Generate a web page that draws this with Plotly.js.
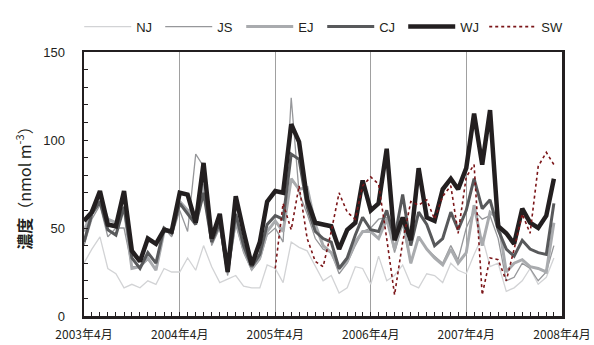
<!DOCTYPE html>
<html>
<head>
<meta charset="utf-8">
<script src="https://cdn.plot.ly/plotly-3.0.1.min.js"></script>
<style>html,body{margin:0;padding:0;background:#fff;}#chart{width:594px;height:345px;}</style>
</head>
<body>
<div id="chart"></div>
<script>
// Monthly sampling months: 2003-04 ... 2008-03
const startYear = 2003, startMonth = 4, nMonths = 60;
const months = [];
for (let i = 0; i < nMonths; i++) {
  const m = startMonth - 1 + i;
  const y = startYear + Math.floor(m / 12);
  const mm = (m % 12) + 1;
  months.push(y + '-' + String(mm).padStart(2, '0') + '-01');
}

const seriesNames = ['NJ', 'JS', 'EJ', 'CJ', 'WJ', 'SW'];

const NJ = [30, 38, 45, 27, 24, 16, 18, 16, 20, 18, 27, 25, 25, 33, 26, 40,
            28, 19, 21, 23, 17, 16, 16, 29, 27, 19, 42, 39, 37, 28,
            20, 23, 13, 16, 28, 27, 18, 34, 20, 23, 29, 18, 16, 24, 23, 19,
            30, 26, 24, 35, 45, 28, 30, 14, 16, 20, 27, 18, 22, 33];

const JS = [40, 55, 63, 45, 50, 50, 28, 28, 32, 27, 50, 45, 60, 48, 92, 85,
            40, 50, 23, 52, 36, 26, 32, 46, 50, 42, 124, 70, 58, 44,
            38, 36, 24, 30, 40, 48, 50, 55, 56, 36, 52, 30, 45, 38, 34, 30,
            40, 32, 50, 60, 55, 57, 44, 20, 22, 30, 27, 20, 25, 40];

const EJ = [48, 60, 67, 55, 53, 62, 27, 28, 33, 26, 48, 48, 65, 60, 55, 75,
            42, 53, 25, 55, 38, 27, 33, 48, 54, 48, 78, 72, 73, 52,
            40, 36, 27, 31, 42, 48, 48, 44, 55, 38, 55, 30, 45, 38, 33, 29,
            38, 30, 36, 63, 40, 59, 55, 25, 30, 32, 28, 27, 25, 53];

const CJ = [42, 58, 65, 49, 46, 62, 33, 27, 36, 30, 50, 47, 64, 58, 52, 70,
            42, 53, 25, 58, 40, 28, 35, 52, 57, 55, 92, 89, 62, 48,
            44, 42, 27, 33, 46, 56, 49, 48, 60, 44, 69, 40, 59, 52, 40, 44,
            59, 49, 60, 78, 61, 66, 49, 38, 34, 43, 38, 36, 35, 64];

const WJ = [54, 59, 71, 52, 51, 71, 37, 31, 44, 41, 49, 48, 70, 69, 53, 87,
            44, 58, 25, 68, 48, 29, 42, 65, 71, 70, 109, 99, 66, 53,
            52, 51, 38, 49, 53, 77, 60, 64, 95, 43, 56, 43, 84, 56, 54, 72,
            78, 72, 84, 115, 86, 117, 51, 47, 41, 61, 53, 50, 57, 78];

const SW = [null, null, null, null, null, null, null, null, null, null, null, null,
            null, null, null, null, null, null, null, null, null, null, null, null,
            27, 64, 49, 74, 44, 31, 28, 48, 70, 59, 55, 74, 79, 75, 44, 12,
            42, 65, 63, 66, 55, 68, 74, 47, 79, 86, 12, 33, 32, 20, 38, 58, 47, 85, 93, 86];

const tickVals = ['2003-04-01', '2004-04-01', '2005-04-01', '2006-04-01', '2007-04-01', '2008-04-01'];
const tickText = ['2003年4月', '2004年4月', '2005年4月', '2006年4月', '2007年4月', '2008年4月'];

const styles = {
  NJ: {color: '#d2d3d5', width: 1.3, dash: 'solid'},
  JS: {color: '#96979a', width: 1.3, dash: 'solid'},
  EJ: {color: '#a9abae', width: 3, dash: 'solid'},
  CJ: {color: '#58595b', width: 3, dash: 'solid'},
  WJ: {color: '#231f20', width: 4.5, dash: 'solid'},
  SW: {color: '#7b1518', width: 1.6, dash: 'dot'}
};
const dataMap = {NJ, JS, EJ, CJ, WJ, SW};

const traces = seriesNames.map(n => ({
  type: 'scatter', mode: 'lines', name: n,
  x: months, y: dataMap[n],
  line: {color: styles[n].color, width: styles[n].width, dash: styles[n].dash},
  connectgaps: false
}));

const font = "Liberation Sans, Arial, 'Noto Sans CJK JP', sans-serif";

const layout = {
  width: 594, height: 345,
  margin: {l: 84, r: 32, t: 46, b: 29},
  paper_bgcolor: '#fff', plot_bgcolor: '#fff',
  font: {family: font, color: '#231f20', size: 12},
  showlegend: true,
  legend: {
    orientation: 'h', x: -0.01, xanchor: 'left', y: 1.096, yanchor: 'middle',
    font: {size: 13, family: font, color: '#231f20'},
    itemwidth: 47, entrywidth: 19, entrywidthmode: 'pixels',
    bgcolor: 'rgba(0,0,0,0)', tracegroupgap: 0
  },
  xaxis: {
    type: 'date', range: ['2003-04-01', '2008-04-01'],
    tickvals: tickVals, ticktext: tickText,
    tickfont: {size: 12, family: "'Noto Sans CJK JP', sans-serif", color: '#231f20'},
    ticks: 'inside', ticklen: 4, tickcolor: '#231f20', tickwidth: 1,
    minor: {dtick: 'M1', tick0: '2003-04-01', ticks: 'inside', ticklen: 4, tickcolor: '#231f20', tickwidth: 1, showgrid: false},
    ticklabelstandoff: 6,
    showgrid: true, gridcolor: '#a0a0a0', gridwidth: 1,
    showline: true, linecolor: '#231f20', linewidth: 2.5, mirror: true,
    zeroline: false, fixedrange: true, automargin: false
  },
  yaxis: {
    range: [0, 150], tickvals: [0, 50, 100, 150],
    tickfont: {size: 13, family: font, color: '#231f20'},
    ticks: 'inside', ticklen: 4, tickcolor: '#231f20', tickwidth: 1,
    minor: {dtick: 10, ticks: 'inside', ticklen: 4, tickcolor: '#231f20', tickwidth: 1, showgrid: false},
    ticklabelstandoff: 14,
    showgrid: false, showline: true, linecolor: '#231f20', linewidth: 2.5, mirror: true,
    zeroline: false, fixedrange: true, automargin: false,
    title: {text: '<b>濃度</b>（nmol m<sup>-3</sup>）', font: {size: 16, family: "'Noto Sans CJK JP', sans-serif", color: '#231f20'}, standoff: 8}
  }
};

Plotly.newPlot('chart', traces, layout, {staticPlot: true, displayModeBar: false});
</script>
</body>
</html>
